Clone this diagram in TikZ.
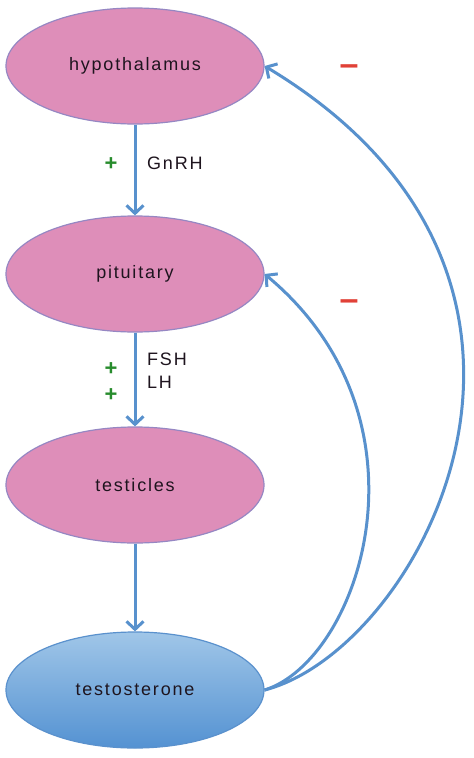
\documentclass[tikz,border=0pt]{standalone}
\usepackage{fontspec}
\setmainfont{Liberation Sans}
\newfontfamily\labfont[LetterSpace=10]{Liberation Sans}
\usetikzlibrary{shapes.geometric,arrows.meta}
\definecolor{pinkfill}{RGB}{222,142,185}
\definecolor{pinkedge}{RGB}{150,135,195}
\definecolor{bluetop}{RGB}{160,198,232}
\definecolor{bluebot}{RGB}{84,146,210}
\definecolor{blueedge}{RGB}{90,145,205}
\definecolor{arrowblue}{RGB}{88,145,205}
\definecolor{plusgreen}{RGB}{40,140,45}
\definecolor{minusred}{RGB}{225,65,55}
\definecolor{txt}{RGB}{30,20,30}
\begin{document}
\begin{tikzpicture}[x=1pt,y=-1pt,
  organ/.style={ellipse,minimum width=258pt,minimum height=116pt,inner sep=0pt,
    draw=pinkedge,line width=1.2pt,fill=pinkfill,font=\labfont\fontsize{18}{20}\selectfont,text=txt},
  hormone/.style={ellipse,minimum width=258pt,minimum height=116pt,inner sep=0pt,
    draw=blueedge,line width=1.2pt,top color=bluetop,bottom color=bluebot,font=\labfont\fontsize{18}{20}\selectfont,text=txt},
  flow/.style={draw=arrowblue,line width=3pt,-{Straight Barb[length=8pt,width=17pt,line width=3pt]}},
  lab/.style={font=\labfont\fontsize{18}{20}\selectfont,text=txt,anchor=west,inner sep=0pt},
  plus/.style={font=\bfseries\fontsize{22}{22}\selectfont,text=plusgreen,inner sep=0pt},
  minus/.style={font=\bfseries\fontsize{34}{34}\selectfont,text=minusred,inner sep=0pt}]
\useasboundingbox (0,0) rectangle (474,758);
\fill[white] (0,0) rectangle (474,758);
\node[organ] (hy) at (135,66) {hypothalamus};
\node[organ] (pi) at (135,274) {pituitary};
\node[organ] (te) at (135,485) {testicles};
\node[hormone] (ts) at (135,690) {testosterone};
\draw[flow] (hy.south) -- (pi.north);
\draw[flow] (pi.south) -- (te.north);
\draw[flow] (te.south) -- (ts.north);
\draw[flow] (ts.east) .. controls (420,650) and (620,280) .. (hy.east);
\draw[flow] (ts.east) .. controls (360,660) and (440,420) .. (pi.east);
\node[plus] (p1) at (111,164) {+};
\node[lab] (g) at (147,163) {GnRH};
\node[plus] (p2) at (111,369) {+};
\node[plus] (p3) at (111,395) {+};
\node[lab] (f) at (147,359) {FSH};
\node[lab] (l) at (147,382) {LH};
\node[minus] (m1) at (349,70) {\textendash};
\node[minus] (m2) at (349,305) {\textendash};
\end{tikzpicture}
\end{document}
